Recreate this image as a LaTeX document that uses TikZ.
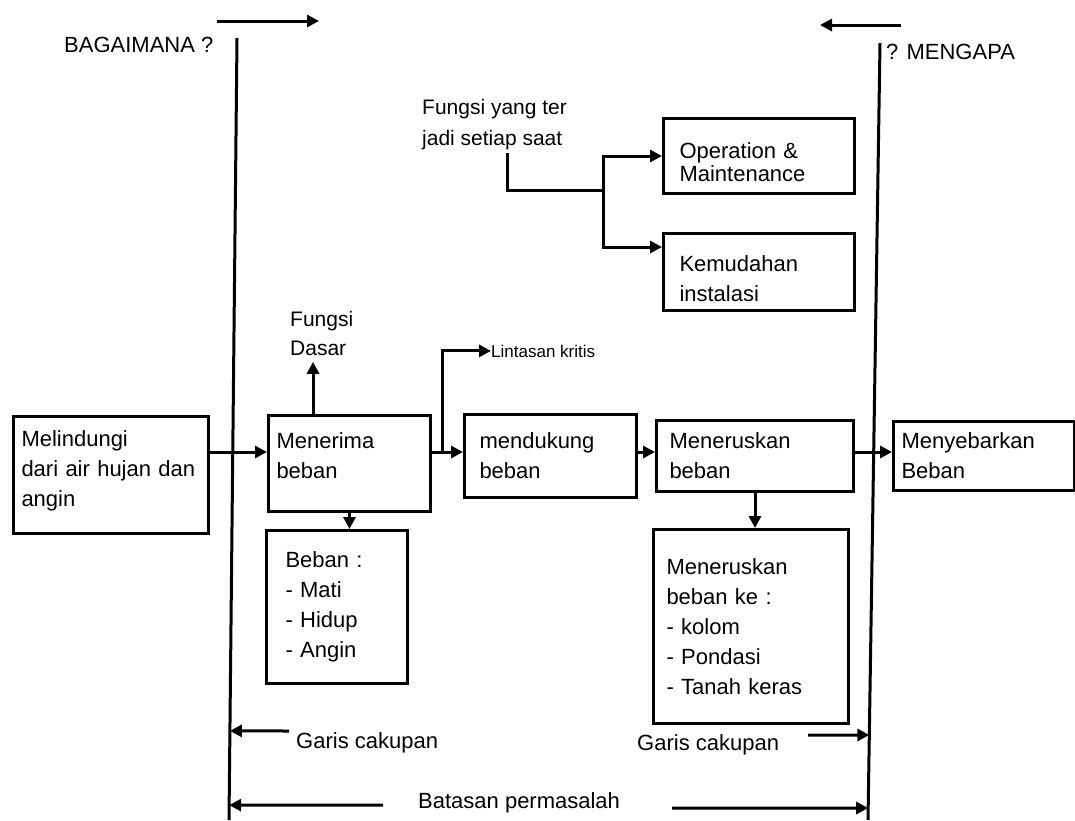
\documentclass[tikz,border=0pt]{standalone}
\usepackage{fontspec}
\setmainfont{Liberation Sans}
\usetikzlibrary{arrows.meta,calc}
\begin{document}
\begin{tikzpicture}[x=1pt,y=-1pt,
  every node/.style={font=\fontsize{22}{30}\selectfont},
  box/.style={draw,line width=3pt,anchor=north west,align=left,inner ysep=0pt},
  arr/.style={line width=3pt,-{Triangle[length=12pt,width=12pt]}},
  ln/.style={line width=3pt},
  lbl/.style={inner sep=0pt,anchor=base west}]
\useasboundingbox (0,0) rectangle (1075,820);
\fill[white] (0,0) rectangle (1075,820);

% scope lines
\coordinate (Ltop) at (237,38);
\coordinate (Lbot) at (229,820);
\coordinate (Rtop) at (880,43);
\coordinate (Rbot) at (868,820);
\draw[ln] (Ltop) -- (Lbot);
\draw[ln] (Rtop) -- (Rbot);

% top arrows
\coordinate (ta1) at (217,21);
\coordinate (ta2) at (319,21);
\coordinate (tb1) at (901,25);
\coordinate (tb2) at (820,25);
\draw[arr] (ta1) -- (ta2);
\draw[arr] (tb1) -- (tb2);

\node[lbl,font=\fontsize{22}{26}\selectfont] (how) at (64,52) {BAGAIMANA ?};
\node[lbl,font=\fontsize{22}{26}\selectfont] (why) at (886,59) {? MENGAPA};

% upper branch
\node[inner sep=0pt,anchor=north west,align=left,font=\fontsize{21}{31}\selectfont] (fy) at (422,99) {Fungsi yang ter\\jadi setiap saat};
\node[box,inner xsep=16pt,text width=159pt,minimum height=75pt,font=\fontsize{22}{23}\selectfont] (op) at (662,117) {\rule{0pt}{29pt}Operation \&\\Maintenance};
\node[box,inner xsep=16pt,text width=159pt,minimum height=77pt] (kem) at (662,232) {\rule{0pt}{30pt}Kemudahan\\instalasi};
\coordinate (fys) at (507,153);
\coordinate (j) at (603,190);
\draw[ln] (fys) |- (j);
\draw[arr] (j) |- (op.west);
\draw[arr] (j) |- ([yshift=-15pt]kem.north west);

% main row
\node[box,inner xsep=8pt,text width=179pt,minimum height=117pt] (mel) at (12,415) {Melindungi\\dari air hujan dan\\angin\rule[-12pt]{0pt}{12pt}};
\node[box,inner xsep=8pt,text width=146pt,minimum height=96pt] (mene) at (267,414) {Menerima\\beban\rule[-16pt]{0pt}{16pt}};
\node[box,inner xsep=15pt,text width=142pt,minimum height=83pt] (mend) at (463,413) {mendukung\\beban};
\node[box,inner xsep=13pt,text width=171pt,minimum height=71pt] (ner) at (655,419) {Meneruskan\\beban};
\node[box,inner xsep=8pt,text width=165pt,minimum height=69pt] (sebar) at (892,420) {Menyebarkan\\Beban};

\node[box,inner xsep=19pt,text width=103pt,minimum height=153pt] (beban) at (265,529) {Beban :\\- Mati\\- Hidup\\- Angin};
\node[box,inner xsep=13pt,text width=169pt,minimum height=194pt] (ke) at (652,528) {Meneruskan\\beban ke :\\- kolom\\- Pondasi\\- Tanah keras};

\node[inner sep=0pt,anchor=north west,align=left,font=\fontsize{21}{29}\selectfont] (fd) at (290,311) {Fungsi\\Dasar};
\node[lbl,font=\fontsize{17}{20}\selectfont] (lint) at (491,357) {Lintasan kritis};

\coordinate (br) at (442,452);
\draw[arr] (mel.east |- br) -- (mene.west |- br);
\draw[arr] (mene.east |- br) -- (mend.west |- br);
\draw[arr] (br) |- (lint.west);
\draw[arr] (mend.east |- br) -- (ner.west |- br);
\draw[arr] (ner.east |- br) -- (sebar.west |- br);
\draw[arr] (mene.north -| 313,0) -- ([yshift=-6pt]fd.south -| 313,0);
\draw[arr] (mene.south) -- (mene.south |- beban.north);
\draw[arr] (ner.south) -- (ner.south |- ke.north);

% bottom labels
\node[lbl] (gc1) at (296,748) {Garis cakupan};
\node[lbl] (gc2) at (637,750) {Garis cakupan};
\node[lbl] (bp) at (418,808) {Batasan permasalah};
\coordinate (g1) at (289,731);
\coordinate (g2) at (808,735);
\coordinate (b1) at (383,805);
\coordinate (b2) at (672,808);
\draw[arr] (g1) -- ($(Ltop)!0.886!(Lbot)$);
\draw[arr] (g2) -- ($(Rtop)!0.8906!(Rbot)$);
\draw[arr] (b1) -- ($(Ltop)!0.981!(Lbot)$);
\draw[arr] (b2) -- ($(Rtop)!0.9846!(Rbot)$);
\end{tikzpicture}
\end{document}
